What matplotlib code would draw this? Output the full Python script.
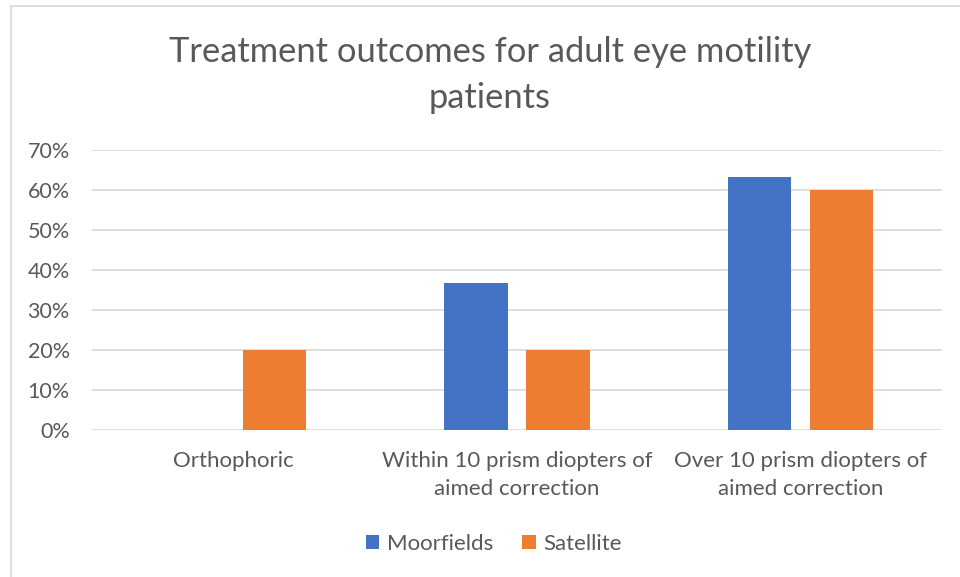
import matplotlib
matplotlib.use("Agg")
import matplotlib.pyplot as plt
import numpy as np
from matplotlib.lines import Line2D
from matplotlib.patches import Patch

categories = ["Orthophoric", "Within 10 prism diopters of\naimed correction",
              "Over 10 prism diopters of\naimed correction"]
moorfields = [0.0, 36.8, 63.2]
satellite = [20.0, 20.0, 60.0]
series_names = ["Moorfields", "Satellite"]
yticks = [0, 10, 20, 30, 40, 50, 60, 70]
title = "Treatment outcomes for adult eye motility\npatients"

plt.rcParams['font.family'] = ['Lato', 'DejaVu Sans']
TXT = "#595959"
BLUE = "#4472C4"
ORANGE = "#ED7D31"

W, H = 960, 577
fig = plt.figure(figsize=(W / 100, H / 100), dpi=100)
ax = fig.add_axes([92 / W, 1 - 430 / H, (942 - 92) / W, (430 - 150) / H])

x = np.arange(len(categories))
bw = 0.224
off = 0.1447
ax.bar(x - off, moorfields, bw, color=BLUE, zorder=3)
ax.bar(x + off, satellite, bw, color=ORANGE, zorder=3)

ax.set_xlim(-0.5, len(categories) - 0.5)
ax.set_ylim(0, 70)
ax.set_yticks(yticks)
ax.set_yticklabels([f"{v}%" for v in yticks], color=TXT, fontsize=15.5)
ax.set_xticks(x)
ax.set_xticklabels(categories, color=TXT, fontsize=16, linespacing=1.5)
ax.tick_params(axis='both', length=0)
ax.tick_params(axis='y', pad=16)
ax.tick_params(axis='x', pad=15)
ax.grid(axis='y', color='#D9D9D9', linewidth=1.2, zorder=0)
for s in ax.spines.values():
    s.set_visible(False)

fig.text(490 / W, 1 - 75 / H, title, ha='center', va='center', fontsize=24.8,
         color=TXT, linespacing=1.53)

handles = [Patch(facecolor=BLUE), Patch(facecolor=ORANGE)]
fig.legend(handles, series_names, loc='center', bbox_to_anchor=(494 / W, 1 - 544 / H),
           ncol=2, frameon=False, fontsize=16, labelcolor=TXT,
           handlelength=0.6, handleheight=0.6, handletextpad=0.35, columnspacing=1.3)

# outer chart border (left and top visible)
fig.add_artist(Line2D([11 / W, 11 / W], [0, 1 - 6 / H], color='#D9D9D9', lw=1.2,
                      transform=fig.transFigure))
fig.add_artist(Line2D([11 / W, 1], [1 - 6 / H, 1 - 6 / H], color='#D9D9D9', lw=1.2,
                      transform=fig.transFigure))

fig.savefig("out.png", dpi=100)
